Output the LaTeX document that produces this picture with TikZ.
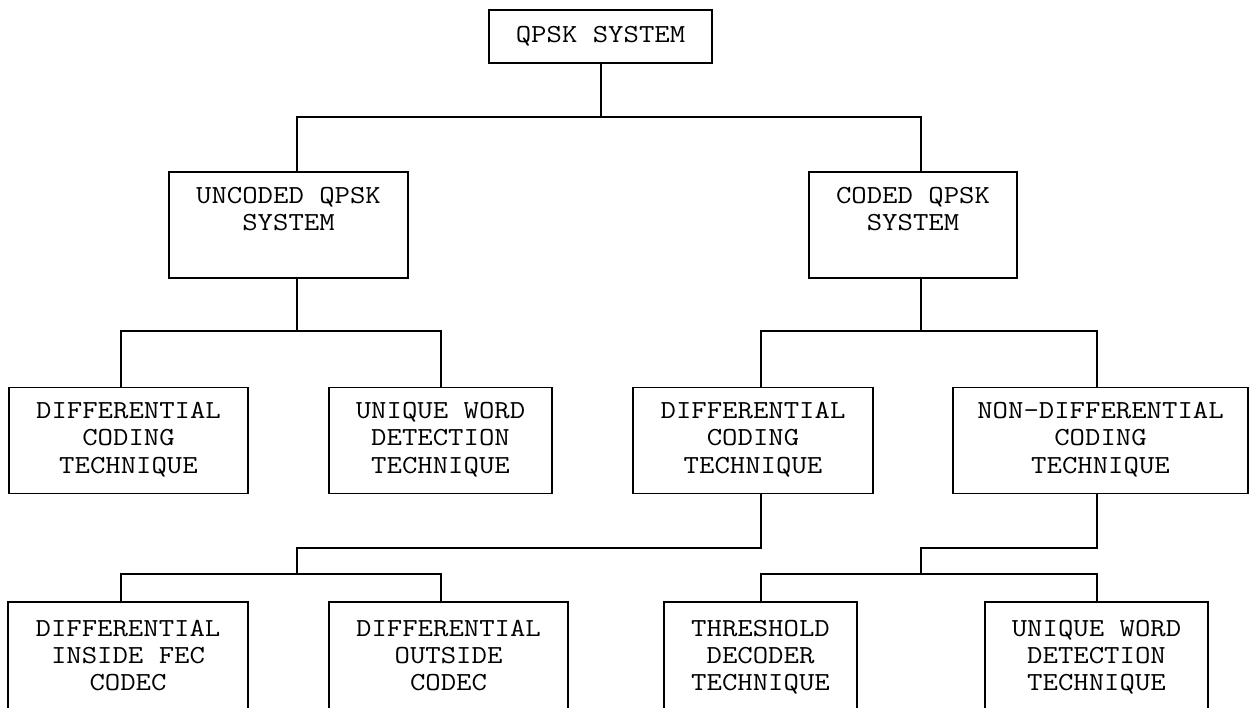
\documentclass[tikz,border=0pt]{standalone}
\usepackage{fontspec}
\setmonofont[FakeStretch=1.15]{Latin Modern Mono}
\begin{document}
\begin{tikzpicture}[x=1pt,y=-1pt,
  box/.style={draw=black, line width=1.2pt, inner sep=0pt, align=center,
    font=\ttfamily\fontsize{26}{27.3}\selectfont, minimum height=106pt},
  conn/.style={draw=black, line width=1.2pt}]
\useasboundingbox (0,0) rectangle (1252,707);
\fill[white] (0,0) rectangle (1252,707);
\clip (0,0) rectangle (1252,707);
% column and bus coordinates
\coordinate (cA) at (121,0);
\coordinate (cB) at (297,0);
\coordinate (cC) at (441,0);
\coordinate (cD) at (601,0);
\coordinate (cE) at (761,0);
\coordinate (cF) at (921,0);
\coordinate (cG) at (1097,0);
\coordinate (b1) at (0,117);
\coordinate (b2) at (0,331);
\coordinate (b3) at (0,548);
\coordinate (b4) at (0,574);
% nodes
\node[box, minimum width=223pt, minimum height=53pt] (qpsk) at (600.5,36.5) {QPSK SYSTEM};
\node[box, minimum width=239pt] (uncoded) at (288.5,225) {\strut UNCODED QPSK\\SYSTEM\\\strut};
\node[box, minimum width=208pt] (coded) at (913,225) {\strut CODED QPSK\\SYSTEM\\\strut};
\node[box, minimum width=239pt] (diffA) at (128.5,440.5) {\strut DIFFERENTIAL\\CODING\\TECHNIQUE\strut};
\node[box, minimum width=223pt] (uniqA) at (440.5,440.5) {\strut UNIQUE WORD\\DETECTION\\TECHNIQUE\strut};
\node[box, minimum width=240pt] (diffB) at (753,440.5) {\strut DIFFERENTIAL\\CODING\\TECHNIQUE\strut};
\node[box, minimum width=295pt] (nondiff) at (1100.5,440.5) {\strut NON-DIFFERENTIAL\\CODING\\TECHNIQUE\strut};
\node[box, minimum width=240pt, minimum height=112pt] (insA) at (128,658) {\strut DIFFERENTIAL\\INSIDE FEC\\CODEC\strut};
\node[box, minimum width=239pt, minimum height=112pt] (outA) at (448.5,658) {\strut DIFFERENTIAL\\OUTSIDE\\CODEC\strut};
\node[box, minimum width=193pt, minimum height=112pt] (thr) at (760.5,658) {\strut THRESHOLD\\DECODER\\TECHNIQUE\strut};
\node[box, minimum width=223pt, minimum height=112pt] (uniqB) at (1096.5,658) {\strut UNIQUE WORD\\DETECTION\\TECHNIQUE\strut};
% connectors
\draw[conn] (qpsk.south -| cD) -- (cD |- b1);
\draw[conn] (uncoded.north -| cB) |- (cF |- b1) -- (coded.north -| cF);
\draw[conn] (uncoded.south -| cB) -- (cB |- b2);
\draw[conn] (diffA.north -| cA) |- (cC |- b2) -- (uniqA.north -| cC);
\draw[conn] (coded.south -| cF) -- (cF |- b2);
\draw[conn] (diffB.north -| cE) |- (cG |- b2) -- (nondiff.north -| cG);
\draw[conn] (diffB.south -| cE) |- (cB |- b3) -- (cB |- b4);
\draw[conn] (insA.north -| cA) |- (cC |- b4) -- (outA.north -| cC);
\draw[conn] (nondiff.south -| cG) |- (cF |- b3) -- (cF |- b4);
\draw[conn] (thr.north -| cE) |- (cG |- b4) -- (uniqB.north -| cG);
\end{tikzpicture}
\end{document}
